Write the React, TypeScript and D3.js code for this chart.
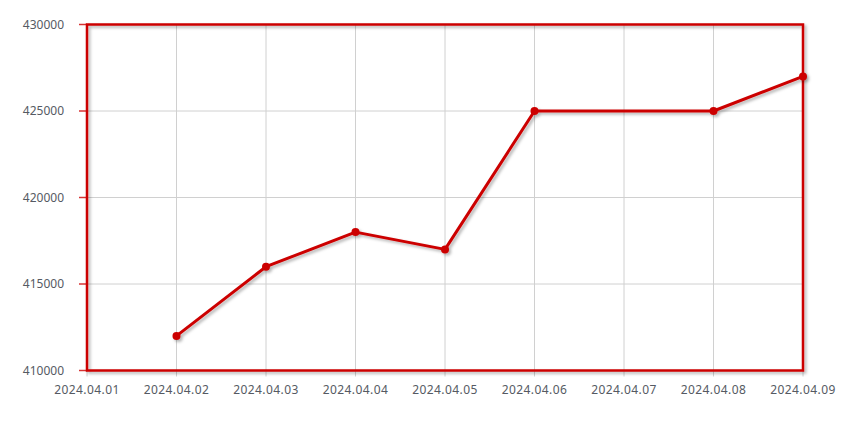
import React from "react";
import * as d3 from "d3";

const categories = ["2024.04.01", "2024.04.02", "2024.04.03", "2024.04.04", "2024.04.05", "2024.04.06", "2024.04.07", "2024.04.08", "2024.04.09"];
const values: (number | null)[] = [null, 412000, 416000, 418000, 417000, 425000, null, 425000, 427000];
const yTicks = [410000, 415000, 420000, 425000, 430000];

const W = 844, H = 432;
const M = { left: 87, right: 41, top: 24.5, bottom: 61.5 };
const RED = "#cc0000";
const TEXT = "#555a63";

export default function App() {
  const x = d3.scalePoint<string>().domain(categories).range([M.left, W - M.right]);
  const y = d3.scaleLinear().domain([410000, 430000]).range([H - M.bottom, M.top]);
  const pts = categories
    .map((c, i) => ({ c, v: values[i] }))
    .filter((d) => d.v !== null) as { c: string; v: number }[];
  const line = d3.line<{ c: string; v: number }>().x((d) => x(d.c)!).y((d) => y(d.v));
  const x0 = M.left, x1 = W - M.right, y0 = M.top, y1 = H - M.bottom;
  return (
    <svg width={W} height={H} style={{ position: "absolute", left: 0, top: 0 }} fontFamily="'Noto Sans', sans-serif">
      <defs>
        <filter id="sh" x="-10%" y="-10%" width="120%" height="120%">
          <feDropShadow dx="2" dy="2" stdDeviation="1.5" floodColor="#000" floodOpacity="0.3" />
        </filter>
      </defs>
      {categories.map((c) => (
        <line key={c} x1={x(c)} x2={x(c)} y1={y0} y2={y1 + 6} stroke="#d0d0d0" strokeWidth={1} />
      ))}
      {yTicks.map((t) => (
        <line key={t} x1={x0} x2={x1} y1={y(t)} y2={y(t)} stroke="#d0d0d0" strokeWidth={1} />
      ))}
      {yTicks.map((t) => (
        <line key={"tk" + t} x1={x0 - 8} x2={x0} y1={y(t)} y2={y(t)} stroke={RED} strokeWidth={1.5} opacity={0.8} />
      ))}
      <rect x={x0} y={y0} width={x1 - x0} height={y1 - y0} fill="none" stroke={RED} strokeWidth={2.5} filter="url(#sh)" />
      <g filter="url(#sh)">
        <path d={line(pts)!} fill="none" stroke={RED} strokeWidth={3} strokeLinejoin="round" />
        {pts.map((d) => (
          <circle key={d.c} cx={x(d.c)} cy={y(d.v)} r={4} fill={RED} />
        ))}
      </g>
      {yTicks.map((t) => (
        <text key={"yl" + t} x={64} y={y(t)} dy="0.35em" textAnchor="end" fontSize={12} fill={TEXT}>
          {t}
        </text>
      ))}
      {categories.map((c) => (
        <text key={"xl" + c} x={x(c)} y={394} textAnchor="middle" fontSize={12} letterSpacing={0.4} fill={TEXT}>
          {c}
        </text>
      ))}
    </svg>
  );
}
